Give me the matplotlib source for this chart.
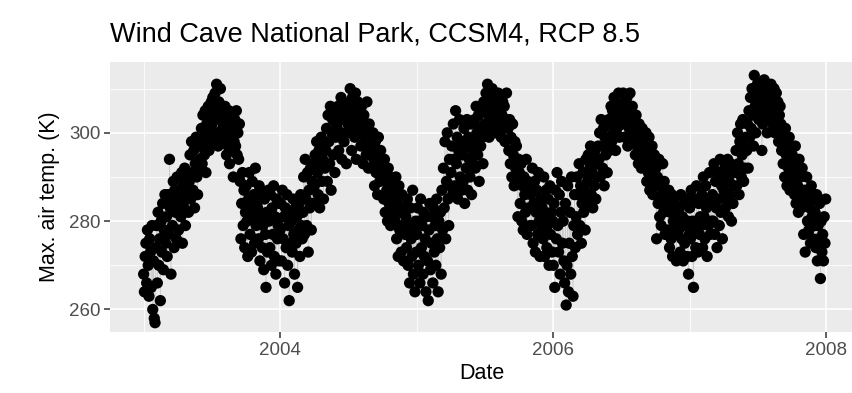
import datetime as dt
import pandas as pd
import matplotlib
matplotlib.use("Agg")
import matplotlib.pyplot as plt
import matplotlib.dates as mdates
from matplotlib.ticker import FixedLocator

plt.rcParams["font.family"] = ["Liberation Sans", "DejaVu Sans"]

# max air temperature (K), about every other day
temp_2003 = [
    268, 264, 272, 275, 266, 278, 270, 263, 276, 273, 265, 279, 260, 271, 258,
    257, 274, 279, 266, 282, 270, 276, 262, 280, 273, 284, 269, 278, 286, 275,
    281, 272, 286, 277, 294, 283, 268, 285, 279, 289, 274, 287, 282, 276, 290,
    284, 278, 290, 286, 281, 291, 275, 288, 283, 292, 279, 287, 285, 290, 282,
    289, 295, 285, 298, 291, 287, 296, 283, 293, 299, 290, 286, 297, 292, 294,
    297, 301, 293, 304, 299, 295, 305, 291, 302, 298, 306, 296, 303, 300, 307,
    302, 308, 298, 305, 309, 300, 311, 304, 297, 307, 303, 310, 299, 306, 301,
    304, 298, 306, 300, 295, 303, 297, 305, 293, 301, 299, 296, 302, 290, 298,
    303, 297, 305, 295, 300, 294, 302, 289, 276, 284, 291, 279, 287, 274, 282,
    288, 280, 272, 285, 291, 277, 283, 273, 289, 281, 286, 275, 292, 279, 284,
    283, 276, 288, 271, 281, 286, 274, 279, 269, 285, 277, 265, 282, 273, 287,
    280, 274, 286, 270, 283, 277, 288, 272, 281, 268, 285, 276, 279, 271, 284,
]
temp_2004 = [
    278, 284, 271, 287, 276, 281, 266, 283, 274, 286, 270, 279, 262, 282, 275,
    280, 273, 285, 277, 268, 283, 275, 281, 265, 278, 284, 272, 286, 279, 276,
    282, 290, 277, 294, 285, 279, 291, 273, 287, 283, 292, 278, 289, 284, 293,
    288, 295, 284, 298, 291, 286, 296, 283, 293, 299, 289, 294, 285, 297, 292,
    296, 301, 289, 304, 298, 293, 306, 287, 300, 303, 295, 305, 291, 299, 302,
    301, 306, 296, 304, 299, 308, 294, 303, 307, 298, 305, 300, 293, 306, 302,
    305, 300, 310, 303, 296, 308, 302, 306, 299, 309, 294, 304, 307, 301, 305,
    303, 297, 306, 300, 293, 304, 298, 301, 295, 307, 299, 292, 302, 296, 300,
    297, 292, 300, 294, 288, 298, 291, 295, 286, 299, 293, 289, 296, 290, 294,
    291, 285, 294, 282, 289, 287, 280, 292, 284, 290, 279, 288, 283, 286, 281,
    287, 280, 290, 276, 284, 272, 288, 278, 282, 273, 286, 279, 271, 283, 277,
    281, 274, 285, 270, 279, 266, 283, 276, 272, 287, 268, 278, 264, 280, 273,
]
temp_2005 = [
    277, 283, 270, 280, 266, 285, 274, 279, 268, 282, 272, 276, 264, 281, 271,
    262, 278, 284, 269, 275, 281, 266, 283, 273, 279, 270, 285, 276, 264, 280,
    274, 282, 268, 287, 278, 292, 283, 298, 276, 289, 300, 285, 279, 294, 288,
    291, 297, 286, 302, 294, 288, 305, 293, 299, 285, 296, 303, 290, 298, 287,
    295, 289, 301, 284, 297, 292, 303, 287, 299, 294, 290, 302, 286, 296, 293,
    298, 303, 292, 306, 300, 295, 304, 289, 301, 297, 305, 299, 293, 307, 302,
    305, 309, 301, 311, 304, 299, 308, 306, 302, 310, 303, 307, 300, 309, 305,
    306, 302, 309, 300, 305, 308, 299, 304, 307, 301, 306, 298, 303, 309, 302,
    301, 296, 303, 293, 299, 290, 302, 295, 288, 298, 292, 297, 289, 281, 294,
    291, 284, 293, 280, 288, 278, 290, 286, 282, 294, 277, 289, 283, 287, 279,
    286, 279, 292, 275, 284, 289, 273, 282, 287, 277, 291, 280, 272, 285, 278,
    283, 276, 290, 272, 281, 287, 274, 279, 285, 270, 288, 277, 282, 273, 280,
]
temp_2006 = [
    270, 284, 265, 287, 276, 291, 279, 273, 286, 268, 282, 289, 275, 280, 271,
    266, 284, 261, 270, 288, 264, 275, 282, 268, 290, 272, 263, 279, 286, 274,
    281, 290, 277, 286, 293, 279, 288, 275, 284, 291, 282, 287, 278, 294, 285,
    289, 295, 284, 292, 297, 286, 291, 283, 294, 288, 296, 285, 293, 290, 297,
    294, 300, 290, 303, 297, 292, 301, 288, 299, 295, 302, 291, 298, 303, 296,
    302, 306, 298, 305, 300, 308, 303, 296, 307, 301, 304, 309, 299, 305, 302,
    306, 302, 309, 304, 299, 307, 303, 308, 297, 305, 301, 309, 304, 300, 306,
    303, 298, 301, 295, 304, 297, 300, 293, 302, 296, 299, 292, 301, 297, 295,
    298, 293, 300, 289, 296, 291, 299, 287, 294, 290, 297, 286, 292, 295, 288,
    292, 276, 290, 284, 294, 281, 288, 279, 286, 293, 282, 289, 277, 285, 283,
    284, 278, 287, 274, 282, 276, 286, 272, 280, 285, 277, 283, 271, 279, 281,
    278, 283, 273, 286, 276, 281, 271, 284, 275, 279, 285, 272, 280, 268, 277,
]
temp_2007 = [
    283, 276, 287, 272, 280, 265, 285, 278, 274, 288, 279, 273, 284, 277, 281,
    279, 286, 274, 290, 281, 276, 288, 283, 272, 285, 279, 291, 277, 284, 280,
    286, 280, 293, 277, 289, 283, 274, 291, 285, 279, 294, 282, 288, 276, 290,
    287, 292, 283, 290, 285, 294, 281, 289, 286, 293, 280, 291, 284, 288, 292,
    291, 296, 288, 300, 293, 286, 298, 302, 290, 295, 303, 289, 297, 292, 299,
    296, 302, 292, 305, 299, 308, 301, 310, 304, 297, 313, 306, 300, 309, 311,
    307, 303, 311, 305, 309, 296, 302, 308, 312, 304, 306, 310, 300, 307, 303,
    309, 304, 311, 306, 302, 308, 310, 300, 305, 309, 303, 307, 298, 304, 306,
    302, 296, 300, 293, 298, 290, 301, 295, 288, 297, 292, 299, 287, 294, 291,
    295, 289, 293, 286, 297, 284, 291, 288, 282, 294, 287, 290, 283, 292, 285,
    277, 287, 273, 284, 290, 280, 286, 278, 283, 275, 288, 281, 276, 285, 279,
    282, 274, 286, 271, 279, 276, 284, 267, 280, 273, 277, 271, 281, 275, 285,
]

years = [2003, 2004, 2005, 2006, 2007]
yearly = [temp_2003, temp_2004, temp_2005, temp_2006, temp_2007]

frames = []
for yr, vals in zip(years, yearly):
    days = pd.date_range(f"{yr}-01-01", f"{yr}-12-31", periods=len(vals))
    frames.append(pd.DataFrame({"Date": days, "tmax": vals}))
df = pd.concat(frames, ignore_index=True)

fig = plt.figure(figsize=(8.53, 3.93), dpi=100)
W, H = 853, 393
ax = fig.add_axes([110 / W, (H - 332) / H, (W - 110) / W, (332 - 61.7) / H])
ax.set_facecolor("#EBEBEB")
for s in ax.spines.values():
    s.set_visible(False)

# thin grey line under the points, like geom_line + geom_point
ax.plot(df["Date"], df["tmax"], color="#c8c8c8", lw=0.5, zorder=2)
ax.scatter(df["Date"], df["tmax"], s=66, color="black", edgecolors="none", zorder=3)

ref = mdates.date2num(dt.datetime(2004, 1, 1))
ax.set_xlim(ref - 455, ref + 1533)
ax.set_ylim(254.9, 316.1)

ax.xaxis.set_major_locator(FixedLocator([mdates.date2num(dt.datetime(y, 1, 1)) for y in (2004, 2006, 2008)]))
ax.xaxis.set_minor_locator(FixedLocator([mdates.date2num(dt.datetime(y, 1, 1)) for y in (2003, 2005, 2007)]))
ax.set_xticklabels(["2004", "2006", "2008"])
ax.yaxis.set_major_locator(FixedLocator([260, 280, 300]))
ax.yaxis.set_minor_locator(FixedLocator([270, 290, 310]))

ax.grid(which="major", color="white", lw=1.2, zorder=0)
ax.grid(which="minor", color="white", lw=0.6, zorder=0)
ax.set_axisbelow(True)

ax.tick_params(which="major", length=4, width=1.1, color="#333333",
               labelcolor="#4D4D4D", labelsize=13.5, pad=3)
ax.tick_params(which="minor", length=0)

ax.set_xlabel("Date", fontsize=15.5, labelpad=3)
ax.set_ylabel("Max. air temp. (K)", fontsize=15.5, labelpad=6)
fig.text(110 / W, 1 - 41.7 / H, "Wind Cave National Park, CCSM4, RCP 8.5",
         fontsize=19.5, ha="left", va="baseline")

fig.savefig("out.png", dpi=100)
